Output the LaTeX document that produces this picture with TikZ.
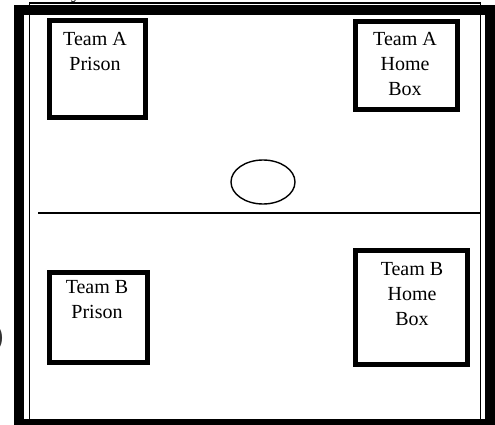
\documentclass[tikz,border=0pt]{standalone}
\usepackage{fontspec}
\usetikzlibrary{shapes.geometric}
\setmainfont{Liberation Serif}
\newfontfamily\fragsans{Liberation Sans}
\begin{document}
\begin{tikzpicture}[x=1pt,y=-1pt,
  thickframe/.style={line width=10pt},
  thinframe/.style={line width=1.3pt},
  zonebox/.style={draw, line width=5pt, inner sep=0pt},
  boxlabel/.style={font=\fontsize{20}{25}\selectfont, align=center, inner sep=0pt, anchor=north},
  thinline/.style={line width=1.4pt}]
\useasboundingbox (0,0) rectangle (495,425);
% outer frames
\draw[thinframe] (29.5,3) rectangle (480.8,440);
\draw[thickframe] (19,10) rectangle (490,424);
% center line and ball
\coordinate (midl) at (38,213);
\coordinate (midr) at (480.8,213);
\draw[thinline] (midl) -- (midr);
\node[draw, thinline, ellipse, minimum width=64pt, minimum height=44pt, inner sep=0pt] (ball) at (263,182) {};
% boxes
\node[zonebox, minimum width=96pt, minimum height=97pt] (aprison) at (97.5,69) {};
\node[zonebox, minimum width=102pt, minimum height=88pt] (ahome) at (406.5,65.5) {};
\node[zonebox, minimum width=98pt, minimum height=90pt] (bprison) at (98.5,317.5) {};
\node[zonebox, minimum width=112pt, minimum height=114pt] (bhome) at (411.5,307.5) {};
% labels
\node[boxlabel] (aprisonlbl) at (95,31.8) {Team A\\Prison};
\node[boxlabel] (ahomelbl) at (405,31.8) {Team A\\Home\\Box};
\node[boxlabel] (bprisonlbl) at (97,279.8) {Team B\\Prison};
\node[boxlabel] (bhomelbl) at (412,261.8) {Team B\\Home\\Box};
% cropped text fragments at the edges
\node[font=\fragsans\bfseries\fontsize{24}{24}\selectfont, inner sep=0pt, anchor=east, text=black!80] (fragparen) at (3.5,338) {)};
\node[font=\fontsize{20}{20}\selectfont, inner sep=0pt, anchor=base] (fragy) at (76,-1.5) {y};
\end{tikzpicture}
\end{document}
